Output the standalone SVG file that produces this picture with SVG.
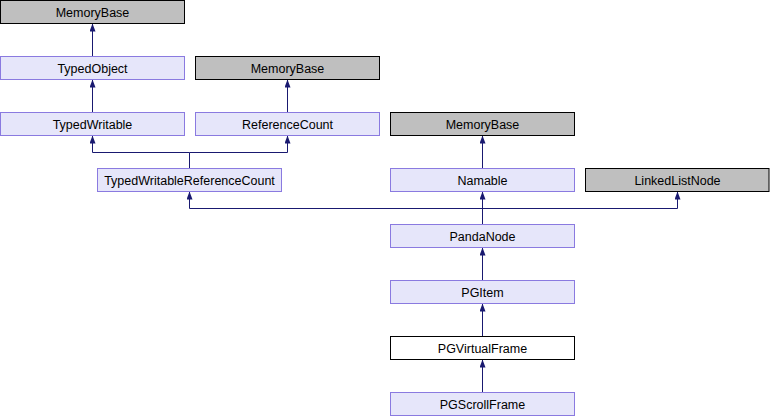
<svg xmlns="http://www.w3.org/2000/svg" width="770" height="416" viewBox="0 0 770 416">
<defs>
<marker id="arr" markerUnits="userSpaceOnUse" viewBox="0 0 8 6" refX="8" refY="3" markerWidth="8" markerHeight="6" orient="auto">
<path d="M0,0 L8,3 L0,6 z" fill="#191970"/>
</marker>
<style>
.doc rect{fill:#e6e6fa;stroke:#8a7ae0;stroke-width:1}
.ext rect{fill:#bfbfbf;stroke:#000;stroke-width:1}
.cur rect{fill:#fff;stroke:#000;stroke-width:1}
text{font-family:"Liberation Sans",Arial,sans-serif;font-size:12.5px;fill:#000;text-anchor:middle}
#edges path{fill:none;stroke:#191970;stroke-width:1;marker-end:url(#arr)}
#edges path.nm{marker-end:none}
</style>
</defs>
<rect width="770" height="416" fill="#fff"/>
<g id="edges">
<path d="M92.5,56 V23.5"/>
<path d="M92.5,112 V79.5"/>
<path d="M287.5,112 V79.5"/>
<path d="M189.5,168 V152.5 H92.5 V135.5"/>
<path d="M189.5,152.5 H287.5 V135.5"/>
<path d="M482.5,168 V135.5"/>
<path d="M482.5,224 V208.5 H189.5 V191.5"/>
<path d="M482.5,224 V191.5"/>
<path d="M482.5,208.5 H677.5 V191.5"/>
<path d="M482.5,280 V247.5"/>
<path d="M482.5,336 V303.5"/>
<path d="M482.5,392 V359.5"/>
</g>
<g id="memorybase1" class="ext"><rect x="0.5" y="0.5" width="184" height="23"/><text x="92.5" y="16.5">MemoryBase</text></g>
<g id="typedobject" class="doc"><rect x="0.5" y="56.5" width="184" height="23"/><text x="92.5" y="72.5">TypedObject</text></g>
<g id="memorybase2" class="ext"><rect x="195.5" y="56.5" width="184" height="23"/><text x="287.5" y="72.5">MemoryBase</text></g>
<g id="typedwritable" class="doc"><rect x="0.5" y="112.5" width="184" height="23"/><text x="92.5" y="128.5">TypedWritable</text></g>
<g id="referencecount" class="doc"><rect x="195.5" y="112.5" width="184" height="23"/><text x="287.5" y="128.5">ReferenceCount</text></g>
<g id="memorybase3" class="ext"><rect x="390.5" y="112.5" width="184" height="23"/><text x="482.5" y="128.5">MemoryBase</text></g>
<g id="typedwritablereferencecount" class="doc"><rect x="97.5" y="168.5" width="184" height="23"/><text x="189.5" y="184.5">TypedWritableReferenceCount</text></g>
<g id="namable" class="doc"><rect x="390.5" y="168.5" width="184" height="23"/><text x="482.5" y="184.5">Namable</text></g>
<g id="linkedlistnode" class="ext"><rect x="585.5" y="168.5" width="183.5" height="23"/><text x="677.5" y="184.5">LinkedListNode</text></g>
<g id="pandanode" class="doc"><rect x="390.5" y="224.5" width="184" height="23"/><text x="482.5" y="240.5">PandaNode</text></g>
<g id="pgitem" class="doc"><rect x="390.5" y="280.5" width="184" height="23"/><text x="482.5" y="296.5">PGItem</text></g>
<g id="pgvirtualframe" class="cur"><rect x="390.5" y="336.5" width="184" height="23"/><text x="482.5" y="352.5">PGVirtualFrame</text></g>
<g id="pgscrollframe" class="doc"><rect x="390.5" y="392.5" width="184" height="23"/><text x="482.5" y="408.5">PGScrollFrame</text></g>
</svg>
